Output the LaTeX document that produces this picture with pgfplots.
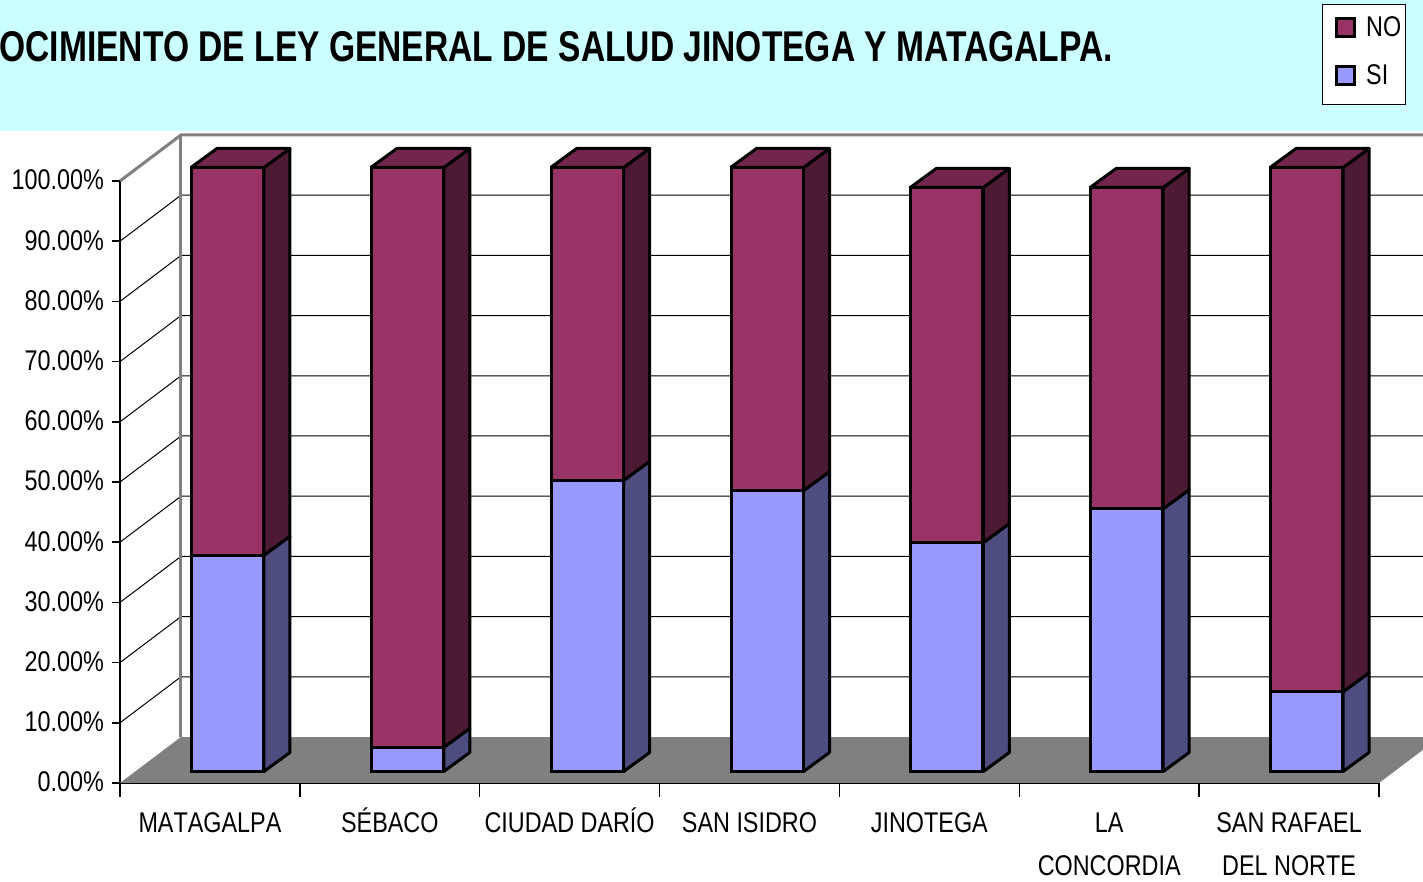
\documentclass[border=0pt]{standalone}
\usepackage{fontspec}
\setmainfont{Liberation Sans}[FakeStretch=0.82]
\newfontfamily\titlefont{Liberation Sans}[FakeStretch=0.781]
\newfontfamily\catfont{Liberation Sans}[FakeStretch=0.82,Kerning=Off]
\usepackage{pgfplots}
\usepackage{pgfplotstable}
\pgfplotsset{compat=1.18}
\definecolor{bgcyan}{HTML}{CCFFFF}
\definecolor{nofront}{HTML}{993366}
\definecolor{noside}{HTML}{4D1A33}
\definecolor{notop}{HTML}{73264D}
\definecolor{sifront}{HTML}{9999FF}
\definecolor{siside}{HTML}{4D4D80}
\definecolor{wallgray}{HTML}{808080}
\pgfplotstableread{
x si no
0.5 35.8 64.2
1.5 4.0 96.0
2.5 48.2 51.8
3.5 46.5 53.5
4.5 37.9 58.8
5.5 43.5 53.2
6.5 13.2 86.8
}\bardata
\newcommand\gridl[2]{%
  \addplot[black,line width=1pt] coordinates {(0,#1) (0.339,#2) (7.339,#2)};}
\newcommand\lab{\rule{0pt}{26pt}}
% side and top faces of one bar: position, SI share, total
\newcommand\barfaces[3]{%
  \pgfmathsetmacro\xL{#1+0.2971}\pgfmathsetmacro\xR{#1+0.7029}%
  \pgfmathsetmacro\xBR{#1+0.8475}\pgfmathsetmacro\xBL{#1+0.4417}%
  \pgfmathsetmacro\dA{3.146}\pgfmathsetmacro\sB{#2+3.146}\pgfmathsetmacro\tB{#3+3.146}%
  \addplot[fill=siside,draw=black,line width=3pt,line join=round] coordinates {(\xR,0) (\xBR,\dA) (\xBR,\sB) (\xR,#2) (\xR,0)};
  \addplot[fill=noside,draw=black,line width=3pt,line join=round] coordinates {(\xR,#2) (\xBR,\sB) (\xBR,\tB) (\xR,#3) (\xR,#2)};
  \addplot[fill=notop,draw=black,line width=3pt,line join=round] coordinates {(\xL,#3) (\xR,#3) (\xBR,\tB) (\xBL,\tB) (\xL,#3)};
}
\begin{document}
\begin{tikzpicture}[x=1pt,y=1pt]
\useasboundingbox (0,0) rectangle (1423,882);
\clip (0,0) rectangle (1423,882);
\fill[white] (0,0) rectangle (1423,882);
\fill[bgcyan] (0,751) rectangle (1423,882);
\node[anchor=east,inner sep=0pt,font=\titlefont\bfseries\fontsize{43}{46}\selectfont] at (1113,835) {OCIMIENTO DE LEY GENERAL DE SALUD JINOTEGA Y MATAGALPA.};
\draw[black,line width=1pt,fill=white] (1322.5,777.5) rectangle (1405,877);
% walls, floor, scale
\begin{axis}[
  at={(120pt,99pt)},anchor=south west,scale only axis,width=1259pt,height=602pt,
  xmin=0,xmax=7,ymin=0,ymax=100,clip=false,
  axis x line=bottom,axis y line=left,axis line style={-,black,line width=1.5pt},
  tick align=outside,
  ytick={0,10,...,100},
  yticklabels={0.00\%,10.00\%,20.00\%,30.00\%,40.00\%,50.00\%,60.00\%,70.00\%,80.00\%,90.00\%,100.00\%},
  xtick={0.5,1.5,...,6.5},
  xticklabels={\lab MATAGALPA,\lab SÉBACO,\lab CIUDAD DARÍO,\lab SAN ISIDRO,\lab JINOTEGA,{\lab LA\\CONCORDIA},{\lab SAN RAFAEL\\DEL NORTE}},
  minor xtick={0,1,...,7},
  major tick length=8pt,minor tick length=14pt,
  major x tick style={draw=none},
  tick style={black,line width=1.5pt},
  yticklabel style={font=\fontsize{28.5}{30}\selectfont,inner sep=0pt,xshift=-8pt,yshift=1pt},
  xticklabel style={font=\catfont\fontsize{28.5}{43}\selectfont,align=center,anchor=north,inner sep=0pt,yshift=-15pt},
]
\gridl{10}{17.64}
\gridl{20}{27.64}
\gridl{30}{37.64}
\gridl{40}{47.64}
\gridl{50}{57.64}
\gridl{60}{67.64}
\gridl{70}{77.64}
\gridl{80}{87.64}
\gridl{90}{97.64}
\addplot[fill=wallgray,draw=none] coordinates {(0,0) (0.339,7.64) (7.339,7.64) (7,0) (0,0)};
\addplot[wallgray,line width=3pt,line join=round] coordinates {(0,100) (0.339,107.64) (7.339,107.64)};
\addplot[wallgray,line width=3pt] coordinates {(0.339,107.64) (0.339,7.64)};
\end{axis}
% side and top faces of the bars
\begin{axis}[
  at={(137.5pt,110.5pt)},anchor=south west,scale only axis,width=1259pt,height=604pt,
  xmin=0,xmax=7,ymin=0,ymax=100,clip=false,hide axis]
\barfaces{0}{35.8}{100}
\barfaces{1}{4.0}{100}
\barfaces{2}{48.2}{100}
\barfaces{3}{46.5}{100}
\barfaces{4}{37.9}{96.7}
\barfaces{5}{43.5}{96.7}
\barfaces{6}{13.2}{100}
\end{axis}
% front faces of the bars and the legend
\begin{axis}[
  at={(137.5pt,110.5pt)},anchor=south west,scale only axis,width=1259pt,height=604pt,
  xmin=0,xmax=7,ymin=0,ymax=100,clip=false,hide axis,
  ybar stacked,bar width=72pt,
  area legend,reverse legend,
  legend style={at={(0.9408,1.2682)},anchor=north west,draw=none,fill=none,
    font=\fontsize{28.5}{30}\selectfont,inner xsep=3pt,inner ysep=9pt,row sep=23pt,
    legend cell align=left},
  legend image code/.code={\path[draw=none,fill=none] (0pt,0pt) -- (39pt,0pt);\draw[#1,line width=3pt] (11pt,-9pt) rectangle (29pt,9pt);},
]
\addplot[fill=sifront,draw=black,line width=3pt] table[x=x,y=si] {\bardata};
\addplot[fill=nofront,draw=black,line width=3pt] table[x=x,y=no] {\bardata};
\legend{SI,NO}
\end{axis}
\end{tikzpicture}
\end{document}
